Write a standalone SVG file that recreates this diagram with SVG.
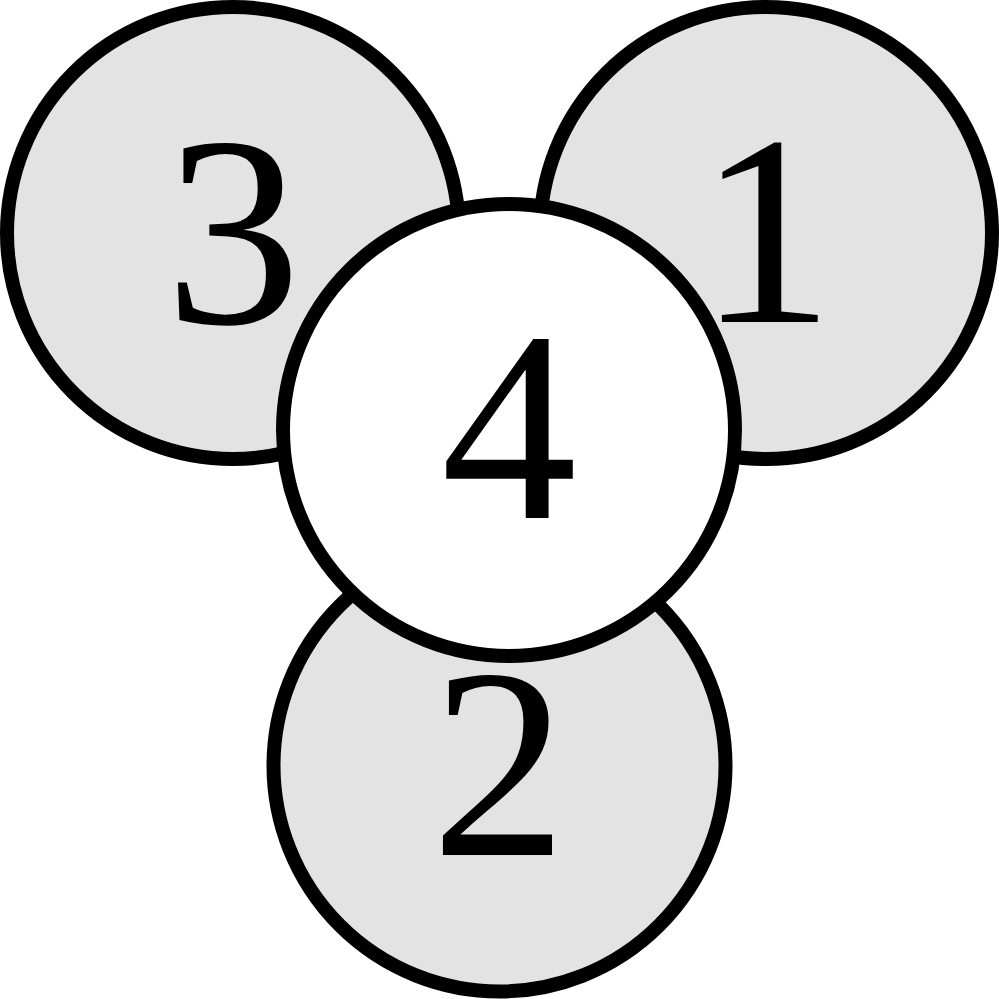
<svg xmlns="http://www.w3.org/2000/svg" width="999" height="999" viewBox="0 0 999 999">
<style>
.c{stroke:#000;stroke-width:14;fill:#e3e3e3}
.w{fill:#fff}
.t{font-family:"Liberation Serif","DejaVu Serif",serif;font-size:272px;text-anchor:middle;fill:#000}
</style>
<rect width="999" height="999" fill="#fff"/>
<g id="connectors"/>
<g id="node3"><circle class="c" cx="233" cy="233" r="226"/><text class="t" x="233" y="323">3</text></g>
<g id="node1"><circle class="c" cx="766" cy="233" r="226"/><text class="t" x="766" y="322">1</text></g>
<g id="node2"><circle class="c" cx="499.5" cy="765.5" r="226"/><text class="t" x="499" y="855">2</text></g>
<g id="node4"><circle class="c w" cx="509" cy="430" r="226"/><text class="t" x="509" y="518">4</text></g>
</svg>
